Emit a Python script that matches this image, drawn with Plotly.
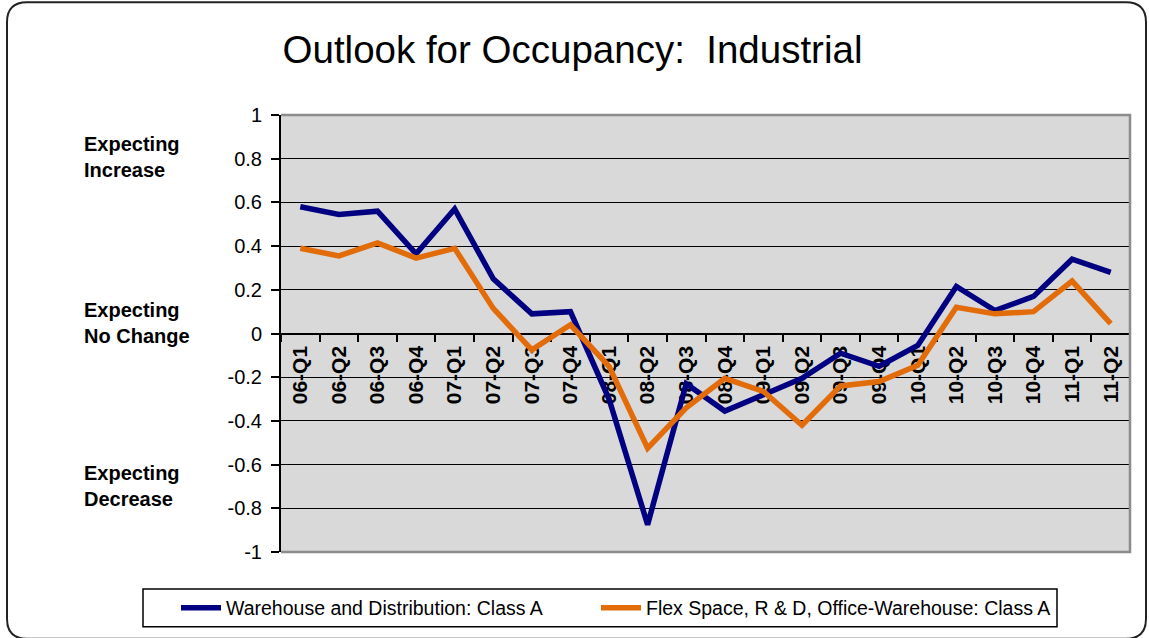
import plotly.graph_objects as go

quarters = ["06-Q1", "06-Q2", "06-Q3", "06-Q4", "07-Q1", "07-Q2", "07-Q3", "07-Q4",
            "08-Q1", "08-Q2", "08-Q3", "08-Q4", "09-Q1", "09-Q2", "09-Q3", "09-Q4",
            "10-Q1", "10-Q2", "10-Q3", "10-Q4", "11-Q1", "11-Q2"]

warehouse = [0.58, 0.545, 0.56, 0.365, 0.57, 0.25, 0.09, 0.10,
             -0.30, -0.875, -0.23, -0.355, -0.28, -0.205, -0.09, -0.15,
             -0.055, 0.215, 0.105, 0.17, 0.34, 0.28]

flex = [0.39, 0.355, 0.415, 0.345, 0.39, 0.115, -0.075, 0.04,
        -0.15, -0.525, -0.34, -0.205, -0.265, -0.42, -0.24, -0.22,
        -0.145, 0.12, 0.09, 0.10, 0.24, 0.045]

ytick_vals = [1, 0.8, 0.6, 0.4, 0.2, 0, -0.2, -0.4, -0.6, -0.8, -1]
ytick_text = ["1", "0.8", "0.6", "0.4", "0.2", "0", "-0.2", "-0.4", "-0.6", "-0.8", "-1"]

side_labels = ["Expecting<br>Increase", "Expecting<br>No Change", "Expecting<br>Decrease"]
side_values = [0.81, 0.05, -0.70]

title_text = "Outlook for Occupancy:\u00a0 Industrial"
series_names = ["Warehouse and Distribution: Class A",
                "Flex Space, R & D, Office-Warehouse: Class A"]

W, H = 1149, 638
L, R, T, B = 281, 19, 115, 85
PW, PH = W - L - R, H - T - B


def px(x):
    return (x - L) / PW


def py(y):
    return (H - B - y) / PH


FONT = "Liberation Sans, Arial, sans-serif"

fig = go.Figure()
fig.add_trace(go.Scatter(x=quarters, y=warehouse, mode="lines", name=series_names[0],
                         line=dict(color="#000080", width=5.5), legend="legend"))
fig.add_trace(go.Scatter(x=quarters, y=flex, mode="lines", name=series_names[1],
                         line=dict(color="#E36C0A", width=5.5), legend="legend2"))

# outer rounded border
xl, xr, yt, yb = px(7), px(1146), py(2), py(640)
rx, ry = 20 / PW, 20 / PH
path = (f"M {xl + rx},{yt} L {xr - rx},{yt} Q {xr},{yt} {xr},{yt - ry} "
        f"L {xr},{yb + ry} Q {xr},{yb} {xr - rx},{yb} "
        f"L {xl + rx},{yb} Q {xl},{yb} {xl},{yb + ry} "
        f"L {xl},{yt - ry} Q {xl},{yt} {xl + rx},{yt} Z")
shapes = [
    dict(type="path", xref="paper", yref="paper", path=path,
         line=dict(color="#222222", width=2)),
    dict(type="path", xref="paper", yref="paper", path="M 0,1 L 1,1 L 1,0 L 0,0",
         line=dict(color="#8C8C8C", width=2.5)),
    dict(type="rect", xref="paper", yref="paper", x0=px(143), x1=px(1057),
         y0=py(590), y1=py(628), line=dict(color="#000000", width=1.5)),
]

annotations = []
for lab, yv in zip(side_labels, side_values):
    annotations.append(dict(text=lab, xref="paper", yref="y", x=px(82), y=yv,
                            xanchor="left", yanchor="middle", align="left",
                            showarrow=False,
                            font=dict(family=FONT, size=20, color="black", weight="bold")))

legend_common = dict(orientation="h", xanchor="left", yanchor="middle", y=py(608),
                     font=dict(family=FONT, size=19.5, color="black"),
                     bgcolor="rgba(0,0,0,0)", borderwidth=0, itemwidth=40)

fig.update_layout(
    width=W, height=H,
    margin=dict(l=L, r=R, t=T, b=B),
    paper_bgcolor="white",
    plot_bgcolor="#D9D9D9",
    font=dict(family=FONT, color="black"),
    title=dict(text=title_text, x=572.5 / W, xanchor="center", xref="container",
               y=1 - 50 / H, yanchor="middle", yref="container",
               font=dict(family=FONT, size=38.5, color="black")),
    showlegend=True,
    legend=dict(x=px(176), **legend_common),
    legend2=dict(x=px(596), **legend_common),
    shapes=shapes,
    annotations=annotations,
)

fig.update_xaxes(type="category", range=[-0.5, len(quarters) - 0.5],
                 anchor="free", position=0.5,
                 showline=True, linecolor="black", linewidth=2,
                 ticks="outside", tickson="boundaries", ticklen=7, tickcolor="black",
                 tickwidth=1.5, tickangle=-90, showgrid=False, zeroline=False,
                 layer="below traces", ticklabelstandoff=3,
                 tickfont=dict(family=FONT, size=21, color="black", weight="bold"))

fig.update_yaxes(range=[-1, 1], tickvals=ytick_vals, ticktext=ytick_text,
                 showline=True, linecolor="black", linewidth=2,
                 ticks="outside", ticklen=8, tickcolor="black", tickwidth=1.5,
                 showgrid=True, gridcolor="black", gridwidth=1, zeroline=False,
                 ticklabelstandoff=5,
                 tickfont=dict(family=FONT, size=20, color="black"))

fig.write_html("out.html", config={"displayModeBar": False},
               post_script="document.body.style.margin='0';document.body.style.padding='0';")
